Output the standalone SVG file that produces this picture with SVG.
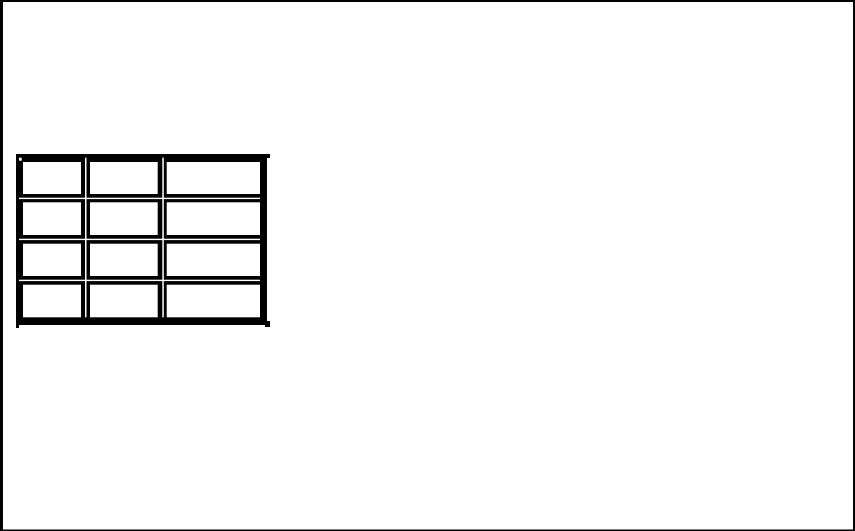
<svg xmlns="http://www.w3.org/2000/svg" width="855" height="531" viewBox="0 0 855 531">
  <style>
    .ink { fill: #000; }
    .paper { fill: #fff; }
  </style>
  <rect x="0" y="0" width="855" height="531" class="paper"/>
  <g id="page-border">
    <rect x="0" y="0" width="3" height="531" class="ink"/>
    <rect x="0" y="0" width="855" height="2" class="ink"/>
    <rect x="853" y="0" width="2" height="531" class="ink"/>
    <rect x="0" y="529.5" width="855" height="1.5" class="ink"/>
  </g>
  <g id="table">
    <rect x="16" y="154" width="251" height="171" class="ink"/>
    <rect x="16" y="325" width="3" height="3" class="ink"/>
    <rect x="266" y="154" width="4" height="4" class="ink"/>
    <rect x="265" y="321" width="5" height="6" class="ink"/>
    <g id="cells" class="paper">
      <rect x="23" y="162" width="58" height="32"/>
      <rect x="90" y="162" width="67.7" height="32"/>
      <rect x="166.7" y="162" width="93.3" height="32"/>
      <rect x="23" y="202.3" width="58" height="32.7"/>
      <rect x="90" y="202.3" width="67.7" height="32.7"/>
      <rect x="166.7" y="202.3" width="93.3" height="32.7"/>
      <rect x="23" y="243.7" width="58" height="32.3"/>
      <rect x="90" y="243.7" width="67.7" height="32.3"/>
      <rect x="166.7" y="243.7" width="93.3" height="32.3"/>
      <rect x="23" y="284.7" width="58" height="32.6"/>
      <rect x="90" y="284.7" width="67.7" height="32.6"/>
      <rect x="166.7" y="284.7" width="93.3" height="32.6"/>
    </g>
    <g id="gaps" class="paper">
      <rect x="85" y="157.7" width="1.5" height="159.6"/>
      <rect x="162.3" y="157.7" width="1.5" height="159.6"/>
      <rect x="19" y="197.7" width="241" height="1.4"/>
      <rect x="19" y="238.7" width="241" height="1.4"/>
      <rect x="19" y="279.7" width="241" height="1.4"/>
      <rect x="19" y="157.7" width="2.7" height="3"/>
    </g>
  </g>
</svg>
